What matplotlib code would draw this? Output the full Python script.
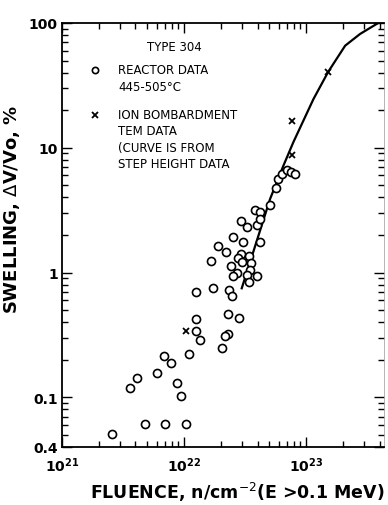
import matplotlib
matplotlib.use("Agg")
import matplotlib.pyplot as plt
import matplotlib.transforms as mtransforms
import numpy as np
from matplotlib.ticker import LogLocator, NullFormatter, FixedLocator

# reactor data (fluence n/cm^2, swelling %)
reactor_fluence = [2.55e21, 3.6e21, 4.1e21, 4.8e21, 6.0e21, 6.8e21, 7.0e21, 7.8e21,
                   8.8e21, 9.4e21, 1.03e22, 1.09e22, 1.25e22, 1.25e22, 1.35e22, 1.25e22,
                   1.66e22, 1.74e22, 1.89e22, 2.21e22, 2.35e22, 2.47e22, 2.28e22, 2.81e22,
                   2.31e22, 2.17e22, 2.06e22, 2.54e22, 3.05e22, 2.93e22, 3.3e22, 3.79e22,
                   4.16e22, 3.97e22, 4.2e22, 4.2e22, 2.93e22, 2.79e22, 3.43e22, 3.52e22,
                   2.43e22, 2.7e22, 2.54e22, 3.47e22, 3.3e22, 3.99e22, 3.43e22, 2.97e22,
                   5.07e22, 5.62e22, 5.93e22, 6.32e22, 7.03e22, 7.5e22, 8.13e22]
reactor_swelling = [0.051, 0.119, 0.142, 0.061, 0.157, 0.215, 0.061, 0.189,
                    0.130, 0.103, 0.061, 0.223, 0.342, 0.425, 0.290, 0.695,
                    1.24, 0.753, 1.64, 1.47, 0.730, 0.653, 0.466, 0.43,
                    0.322, 0.312, 0.247, 1.92, 1.75, 2.58, 2.31, 3.19,
                    3.08, 2.40, 1.77, 2.69, 1.41, 1.30, 1.35, 1.19,
                    1.13, 1.0, 0.944, 1.05, 0.957, 0.934, 0.836, 1.21,
                    3.48, 4.77, 5.62, 6.17, 6.64, 6.34, 6.17]

# ion bombardment TEM data
ion_fluence = [1.03e22, 7.64e22, 7.64e22, 1.52e23]
ion_swelling = [0.339, 16.3, 8.7, 40.3]

# step height curve
curve_fluence = [2.97e22, 5.07e22, 6.52e22, 7.87e22, 1.15e23, 1.52e23, 2.09e23, 2.77e23, 3.9e23]
curve_swelling = [0.748, 3.89, 7.19, 11.1, 24.6, 40.7, 65.8, 81.7, 100.0]

fig = plt.figure(figsize=(3.88, 5.06), dpi=100)
ax = fig.add_axes([62/388, 1-448/506, 322/388, 424/506])

ax.plot(reactor_fluence, reactor_swelling, 'o', mfc='white', mec='black',
        ms=5.8, mew=1.2, zorder=3)
ax.plot(ion_fluence, ion_swelling, 'x', color='black', ms=4, mew=1.3, zorder=4)
ax.plot(curve_fluence, curve_swelling, '-', color='black', lw=1.6, zorder=2)

ax.set_xscale('log')
ax.set_yscale('log')
ax.set_xlim(1e21, 4.35e23)
ax.set_ylim(0.04, 100)

ax.xaxis.set_major_locator(FixedLocator([1e21, 1e22, 1e23]))
ax.xaxis.set_minor_locator(LogLocator(base=10, subs=np.arange(2, 10)))
ax.xaxis.set_minor_formatter(NullFormatter())
ax.set_xticklabels([r'$\mathbf{10^{21}}$', r'$\mathbf{10^{22}}$', r'$\mathbf{10^{23}}$'],
                   fontsize=10)
offset = mtransforms.ScaledTranslation(8/100, 0, fig.dpi_scale_trans)
for lab in ax.get_xticklabels():
    lab.set_transform(lab.get_transform() + offset)

ax.yaxis.set_major_locator(FixedLocator([0.04, 0.1, 1, 10, 100]))
ax.yaxis.set_minor_locator(LogLocator(base=10, subs=np.arange(2, 10)))
ax.yaxis.set_minor_formatter(NullFormatter())
ax.set_yticklabels(['0.4', '0.1', '1', '10', '100'], fontsize=10, fontweight='bold')

ax.tick_params(which='both', direction='in', top=True, right=True, width=1)
ax.tick_params(which='major', length=7)
ax.tick_params(which='minor', length=4)
ax.tick_params(axis='x', pad=6)
ax.tick_params(axis='y', pad=3)

for s in ['left', 'bottom', 'top']:
    ax.spines[s].set_linewidth(1.3)
ax.spines['right'].set_linewidth(0.5)
ax.spines['right'].set_color('#999999')

ax.set_xlabel(r'FLUENCE, n/cm$^{-2}$(E >0.1 MeV)', fontsize=12.5, fontweight='bold')
ax.xaxis.set_label_coords((237-62)/322, -(481-448)/424)
ax.set_ylabel(r'SWELLING, $\Delta$V/Vo, %', fontsize=13, fontweight='bold')
ax.yaxis.set_label_coords(-(62-22)/322, (448-209)/424)


def px(x, y):
    return ((x-62)/322, (448-y)/424)


kw = dict(transform=ax.transAxes, fontsize=8.5, va='center')
ax.text(*px(174, 48), 'TYPE 304', ha='center', **kw)
ax.plot(*px(95, 71), 'o', mfc='white', mec='black', ms=4.5, mew=1.2,
        transform=ax.transAxes)
ax.text(*px(118, 71), 'REACTOR DATA', ha='left', **kw)
ax.text(*px(118, 88), '445-505°C', ha='left', **kw)
ax.plot(*px(95, 116), 'x', color='black', ms=4, mew=1.3, transform=ax.transAxes)
ax.text(*px(118, 116), 'ION BOMBARDMENT', ha='left', **kw)
ax.text(*px(118, 132), 'TEM DATA', ha='left', **kw)
ax.text(*px(118, 149), '(CURVE IS FROM', ha='left', **kw)
ax.text(*px(118, 165), 'STEP HEIGHT DATA', ha='left', **kw)

fig.savefig('out.png', dpi=100)
